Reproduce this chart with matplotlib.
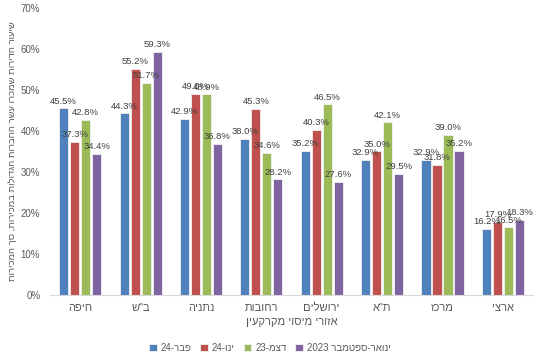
import re
import numpy as np
from matplotlib import pyplot as plt
from matplotlib.ticker import FuncFormatter

plt.rcParams['font.family'] = ['Liberation Sans', 'DejaVu Sans']


def heb(s):
    ''' matplotlib has no bidi: reverse hebrew, keep digit runs in order '''
    r = s[::-1]
    return re.sub(r'[0-9.]+', lambda m: m.group(0)[::-1], r)


regions = ['חיפה', 'ב"ש', 'נתניה', 'רחובות', 'ירושלים', 'ת"א', 'מרכז', 'ארצי']
series_names = ['פבר-24', 'ינו-24', 'דצמ-23', 'ינואר-ספטמבר 2023']
feb24 = [45.5, 44.3, 42.9, 38.0, 35.2, 32.9, 32.9, 16.2]
jan24 = [37.3, 55.2, 49.0, 45.3, 40.3, 35.0, 31.8, 17.9]
dec23 = [42.8, 51.7, 48.9, 34.6, 46.5, 42.1, 39.0, 16.5]
janSep23 = [34.4, 59.3, 36.8, 28.2, 27.6, 29.5, 35.2, 18.3]

ylabel = 'שיעור הדירות שמכרו עשר החברות הגדולות במכירות, סך המכירות'
xlabel = 'אזורי מיסוי מקרקעין'

colors = ['#4F81BD', '#C0504D', '#9BBB59', '#8064A2']
grey = '#595959'

fig = plt.figure(figsize=(5.53, 3.60), dpi=100)
ax = fig.add_axes([0.0904, 0.1806, 0.8736, 0.7972])

x = np.arange(len(regions))
width = 0.15
step = 0.182
for i, (vals, col, name) in enumerate(zip([feb24, jan24, dec23, janSep23], colors, series_names)):
    bars = ax.bar(x + (i - 1.5) * step, vals, width, color=col, edgecolor='#f2f2f2',
                  linewidth=0.6, label=heb(name))
    ax.bar_label(bars, labels=['{:.1f}%'.format(v) for v in vals], padding=2,
                 fontsize=6.8, color='#404040')

ax.set_xlim(-0.5, len(regions) - 0.5)
ax.set_ylim(0, 70)
ax.set_yticks(np.arange(0, 71, 10))
ax.yaxis.set_major_formatter(FuncFormatter(lambda v, p: '{:d}%'.format(int(round(v)))))
ax.set_xticks(x)
ax.set_xticklabels([heb(r) for r in regions], fontsize=8, color=grey)
ax.tick_params(axis='y', length=0, labelsize=7, labelcolor=grey, pad=7)
ax.tick_params(axis='x', length=0, pad=6)
for s in ['top', 'right', 'left']:
    ax.spines[s].set_visible(False)
ax.spines['bottom'].set_color('#d9d9d9')

ax.set_xlabel(heb(xlabel), fontsize=8, color=grey, labelpad=3)
fig.text(0.022, 0.58, heb(ylabel), rotation=90, fontsize=6.8, color=grey,
         ha='center', va='center')

fig.legend(loc='center', bbox_to_anchor=(0.488, 0.033), ncol=4, frameon=False,
           fontsize=7, handlelength=0.8, handleheight=0.8, handletextpad=0.4,
           columnspacing=0.9, labelcolor=grey)

plt.savefig('out.png', dpi=100)
plt.close()
